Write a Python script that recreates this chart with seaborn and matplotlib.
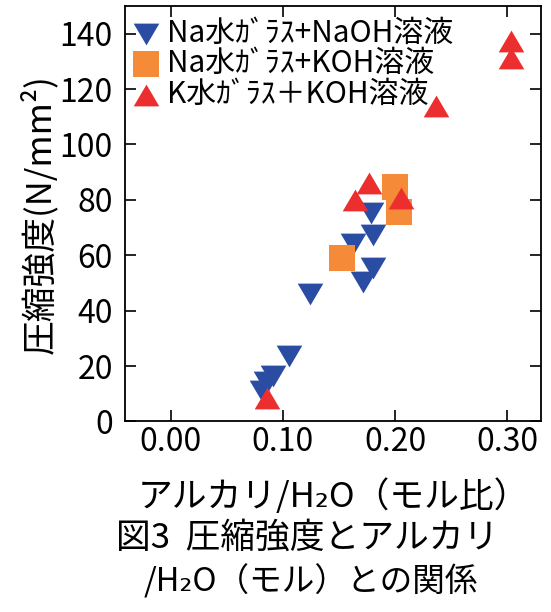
import matplotlib
matplotlib.use("Agg")
import matplotlib.pyplot as plt
import seaborn as sns
import pandas as pd

# ---- data ----
series_names = ["Na水ｶﾞﾗｽ+NaOH溶液", "Na水ｶﾞﾗｽ+KOH溶液", "K水ｶﾞﾗｽ＋KOH溶液"]
na_naoh_x = [0.124, 0.105, 0.091, 0.085, 0.081, 0.162, 0.178, 0.180, 0.180, 0.171]
na_naoh_y = [46.0, 23.8, 16.6, 14.2, 11.1, 64.0, 75.2, 67.5, 55.3, 50.2]
na_koh_x = [0.153, 0.200, 0.203]
na_koh_y = [59.0, 84.7, 75.7]
k_koh_x = [0.303, 0.303, 0.236, 0.177, 0.164, 0.205, 0.086]
k_koh_y = [137.2, 131.4, 113.9, 86.2, 80.0, 80.6, 8.3]

x_ticks = [0.00, 0.10, 0.20, 0.30]
x_tick_labels = ["0.00", "0.10", "0.20", "0.30"]
y_ticks = [0, 20, 40, 60, 80, 100, 120, 140]
y_tick_labels = ["0", "20", "40", "60", "80", "100", "120", "140"]

ylabel = "圧縮強度(N/mm²)"
xlabel = "アルカリ/H₂O（モル比）"
caption1 = "図3  圧縮強度とアルカリ"
caption2 = "/H₂O（モル）との関係"

colors = ["#2A4CA3", "#F58A38", "#EC2E2E"]
down_tri = [(-1.0, 0.85), (1.0, 0.85), (0.0, -0.85)]
up_tri = [(-1.0, -0.85), (1.0, -0.85), (0.0, 0.85)]
markers = [down_tri, "s", up_tri]

sns.set_theme(style="ticks")
plt.rcParams["font.family"] = ["Noto Sans CJK JP", "DejaVu Sans"]

fig = plt.figure(figsize=(5.51, 6.12), dpi=100)
ax = fig.add_axes([0.2274, 0.3113, 0.7546, 0.6789])

frames = [
    pd.DataFrame({"x": na_naoh_x, "y": na_naoh_y}),
    pd.DataFrame({"x": na_koh_x, "y": na_koh_y}),
    pd.DataFrame({"x": k_koh_x, "y": k_koh_y}),
]
sizes = [340, 350, 340]
for df, name, c, m, s in zip(frames, series_names, colors, markers, sizes):
    sns.scatterplot(data=df, x="x", y="y", ax=ax, color=c, marker=m, s=s,
                    linewidth=0, label=name, legend=False)

ax.set_xlim(-0.0405, 0.330)
ax.set_ylim(0, 150)
ax.set_xticks(x_ticks)
ax.set_xticklabels(x_tick_labels)
ax.set_yticks(y_ticks)
ax.set_yticklabels(y_tick_labels)
ax.tick_params(direction="in", top=True, right=True, length=8, width=1.2,
               labelsize=23, colors="black")
ax.tick_params(axis="x", pad=3)
ax.tick_params(axis="y", pad=9)
for sp in ax.spines.values():
    sp.set_linewidth(1.3)
    sp.set_color("black")
    sp.set_visible(True)

ax.set_xlabel("")
ax.set_ylabel(ylabel, fontsize=25, color="black")
ax.yaxis.set_label_coords(-0.162, 0.50)

leg = ax.legend(loc="upper left", bbox_to_anchor=(0.0, 0.986), frameon=False,
                fontsize=21.5, handlelength=1.0, handletextpad=0.2,
                labelspacing=-0.02, borderpad=0.2, borderaxespad=0.0)
for t in leg.get_texts():
    t.set_color("black")

fig.text(333 / 551, 1 - 497 / 612, xlabel, ha="center", va="center",
         fontsize=25, color="black")
fig.text(307.5 / 551, 1 - 538 / 612, caption1, ha="center", va="center",
         fontsize=25, color="black")
fig.text(311 / 551, 1 - 581 / 612, caption2, ha="center", va="center",
         fontsize=23.5, color="black")

fig.savefig("out.png", dpi=100)
